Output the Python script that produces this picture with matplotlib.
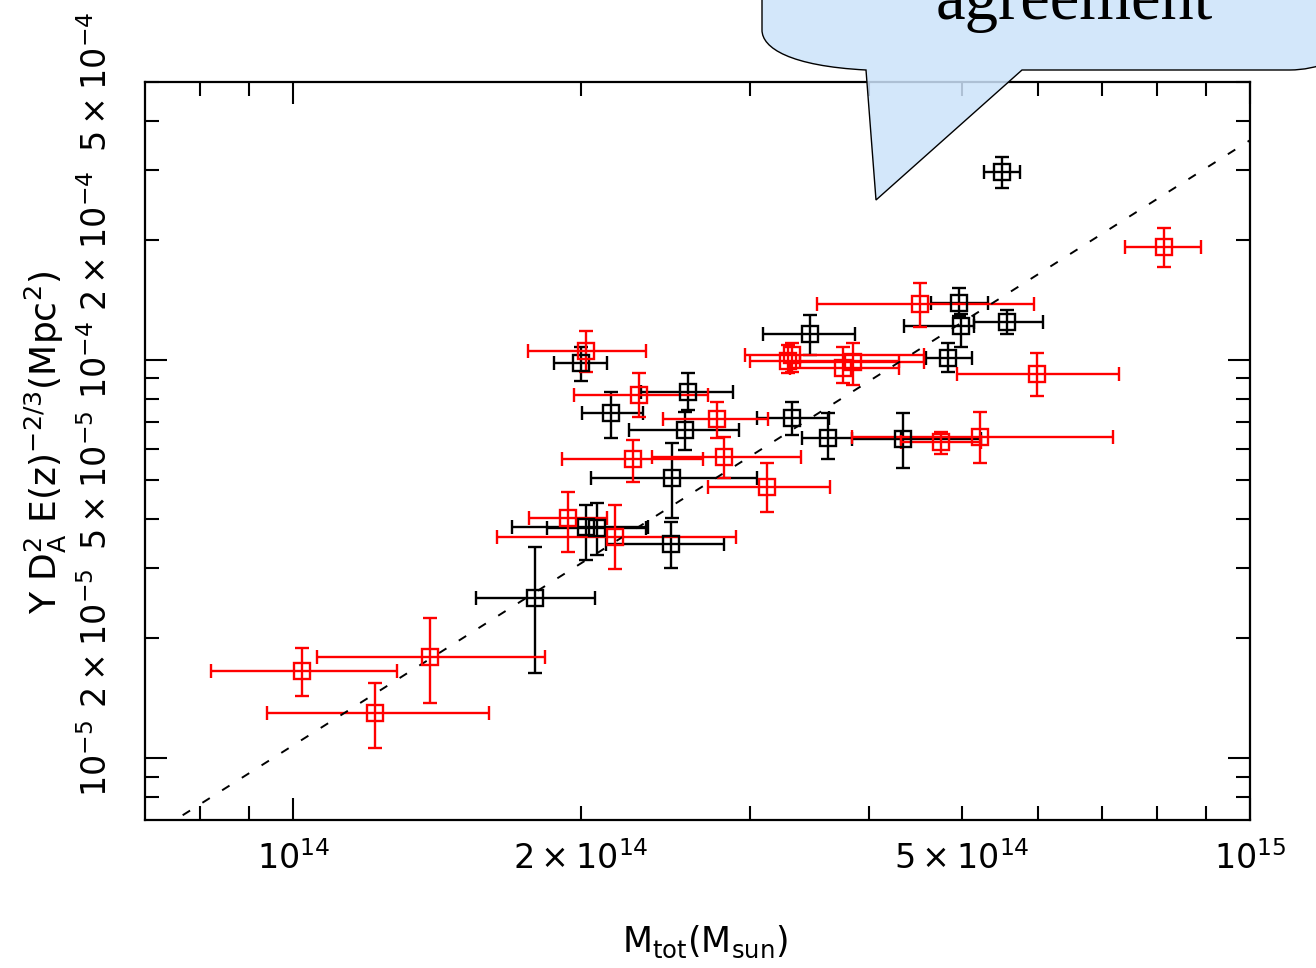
import numpy as np
import matplotlib
matplotlib.use('Agg')
import matplotlib.pyplot as plt
from matplotlib.path import Path
from matplotlib.patches import PathPatch

plt.rcParams['font.family'] = ['DejaVu Sans']
plt.rcParams['mathtext.default'] = 'regular'

# masses in units of 1e14 Msun, Y D_A^2 E(z)^-2/3 in units of 1e-5 Mpc^2
# red sample: centre, lower and upper error bounds
red_m    = [1.022, 1.389, 1.219, 2.025, 1.939, 2.167, 2.301, 2.772, 2.263, 2.819,
            3.128, 3.323, 3.291, 3.758, 3.850, 4.516, 5.992, 4.751, 5.221, 8.125]
red_m_lo = [0.820, 1.060, 0.939, 1.760, 1.764, 1.633, 1.967, 2.433, 1.911, 2.369,
            2.713, 2.966, 3.002, 3.307, 3.388, 3.530, 4.939, 4.315, 3.841, 7.411]
red_m_hi = [1.283, 1.834, 1.602, 2.340, 2.130, 2.902, 2.713, 3.135, 2.680, 3.396,
            3.643, 4.560, 4.294, 4.294, 4.560, 5.949, 7.303, 5.234, 7.198, 8.884]
red_y    = [1.654, 1.794, 1.297, 10.53, 4.009, 3.592, 8.169, 7.109, 5.641, 5.707,
            4.796, 10.29, 9.943, 9.547, 9.886, 13.82, 9.222, 6.223, 6.405, 19.23]
red_y_lo = [1.431, 1.375, 1.060, 9.329, 3.294, 2.985, 7.191, 6.368, 4.937, 5.052,
            4.151, 9.329, 9.276, 8.755, 8.655, 12.10, 8.121, 5.807, 5.512, 17.13]
red_y_hi = [1.890, 2.247, 1.543, 11.83, 4.659, 4.323, 9.276, 7.845, 6.295, 6.405,
            5.512, 11.03, 10.91, 10.78, 11.03, 15.61, 10.41, 6.594, 7.402, 21.46]

# black sample
blk_m    = [1.790, 2.001, 2.151, 2.585, 2.566, 2.486, 2.480, 2.025, 2.075,
            3.470, 3.323, 3.625, 4.336, 4.963, 4.987, 4.833, 5.574, 5.506]
blk_m_lo = [1.552, 1.874, 2.005, 2.312, 2.246, 2.049, 2.125, 1.693, 1.843,
            3.098, 3.053, 3.404, 3.841, 4.638, 4.345, 4.582, 5.146, 5.272]
blk_m_hi = [2.065, 2.130, 2.318, 2.881, 2.924, 3.053, 2.819, 2.346, 2.340,
            3.869, 3.634, 4.315, 5.234, 5.323, 5.146, 5.122, 6.080, 5.751]
blk_y    = [2.523, 9.828, 7.359, 8.312, 6.670, 5.052, 3.449, 3.806, 3.784,
            11.62, 7.150, 6.368, 6.332, 13.90, 12.17, 10.12, 12.46, 29.68]
blk_y_lo = [1.635, 8.857, 6.368, 7.488, 5.943, 4.009, 3.002, 3.145, 3.237,
            10.29, 6.480, 5.641, 5.354, 12.90, 10.78, 9.329, 11.62, 27.05]
blk_y_hi = [3.390, 10.78, 8.312, 9.276, 7.402, 6.188, 3.917, 4.323, 4.373,
            12.97, 7.845, 7.359, 7.359, 15.17, 13.05, 11.03, 13.35, 32.36]

# dashed scaling relation: Y = norm * (M / 1e15)^slope
fit_norm = 3.57e-4
fit_slope = 1.52

x_major = [1e14, 1e15]
x_major_labels = [r'$10^{14}$', r'$10^{15}$']
x_minor = [8e13, 9e13, 2e14, 3e14, 4e14, 5e14, 6e14, 7e14, 8e14, 9e14]
x_minor_labels = ['', '', r'$2\times10^{14}$', '', '', r'$5\times10^{14}$', '', '', '', '']
y_major = [1e-5, 1e-4]
y_major_labels = [r'$10^{-5}$', r'$10^{-4}$']
y_minor = [8e-6, 9e-6, 2e-5, 3e-5, 4e-5, 5e-5, 6e-5, 7e-5, 8e-5, 9e-5,
           2e-4, 3e-4, 4e-4, 5e-4]
y_minor_labels = ['', '', r'$2\times10^{-5}$', '', '', r'$5\times10^{-5}$', '', '', '', '',
                  r'$2\times10^{-4}$', '', '', r'$5\times10^{-4}$']

W, H = 1316, 968
fig = plt.figure(figsize=(W / 100, H / 100), dpi=100)
ax = fig.add_axes([145 / W, 148 / H, 1105 / W, 738 / H])


def draw(m, mlo, mhi, y, ylo, yhi, col):
    m = np.array(m) * 1e14
    mlo = np.array(mlo) * 1e14
    mhi = np.array(mhi) * 1e14
    y = np.array(y) * 1e-5
    ylo = np.array(ylo) * 1e-5
    yhi = np.array(yhi) * 1e-5
    ax.errorbar(m, y, xerr=[m - mlo, mhi - m], yerr=[y - ylo, yhi - y],
                fmt='s', mfc='none', mec=col, ecolor=col, ms=11, mew=1.7,
                elinewidth=1.7, capsize=5, capthick=1.7)


draw(blk_m, blk_m_lo, blk_m_hi, blk_y, blk_y_lo, blk_y_hi, 'black')
draw(red_m, red_m_lo, red_m_hi, red_y, red_y_lo, red_y_hi, '#ff0000')

mline = np.array([5e13, 1.2e15])
ax.plot(mline, fit_norm * (mline / 1e15) ** fit_slope, color='black',
        lw=1.4, dashes=(4.5, 7.5))

ax.set_xscale('log')
ax.set_yscale('log')
ax.set_xlim(7e13, 1e15)
ax.set_ylim(7e-6, 5e-4)
ax.set_xticks(x_major, labels=x_major_labels)
ax.set_xticks(x_minor, labels=x_minor_labels, minor=True)
ax.set_yticks(y_major, labels=y_major_labels)
ax.set_yticks(y_minor, labels=y_minor_labels, minor=True)

ax.tick_params(which='both', direction='in', top=True, right=True,
               width=1.5, colors='black')
ax.tick_params(which='major', length=16)
ax.tick_params(which='minor', length=10)
ax.tick_params(axis='x', which='both', labelsize=24, pad=15)
ax.tick_params(axis='y', which='both', labelsize=24, pad=22, labelrotation=90)
for lab in ax.get_yticklabels(which='both'):
    lab.set_verticalalignment('center')
for s in ax.spines.values():
    s.set_linewidth(1.6)

fig.text(705 / W, 1 - 942 / H, r'M$_{tot}$(M$_{sun}$)', fontsize=25,
         ha='center', va='center')
fig.text(46 / W, 1 - 442 / H, r'Y D$_A^2$ E(z)$^{-2/3}$(Mpc$^2$)', fontsize=26,
         rotation=90, ha='center', va='center')

# speech bubble overlay (pixel coordinates, origin top-left)
pts = [(762, -20), (762, 30), (762, 48), (790, 66), (866, 70),
       (876, 200), (1022, 70), (1290, 70), (1310, 70), (1330, 62),
       (1330, -20), (762, -20)]
codes = [Path.MOVETO, Path.LINETO, Path.CURVE4, Path.CURVE4, Path.CURVE4,
         Path.LINETO, Path.LINETO, Path.LINETO, Path.CURVE3, Path.CURVE3,
         Path.LINETO, Path.CLOSEPOLY]
verts = [(x / W, 1 - y / H) for x, y in pts]
bubble = PathPatch(Path(verts, codes), transform=fig.transFigure,
                   facecolor=(0.80, 0.89, 0.98, 0.85), edgecolor='black',
                   lw=1.0, zorder=5)
fig.add_artist(bubble)
fig.text(1074 / W, 1 - 19 / H, 'agreement', family='Liberation Serif',
         fontsize=48, ha='center', va='baseline', zorder=6)

fig.savefig('out.png', dpi=100)
